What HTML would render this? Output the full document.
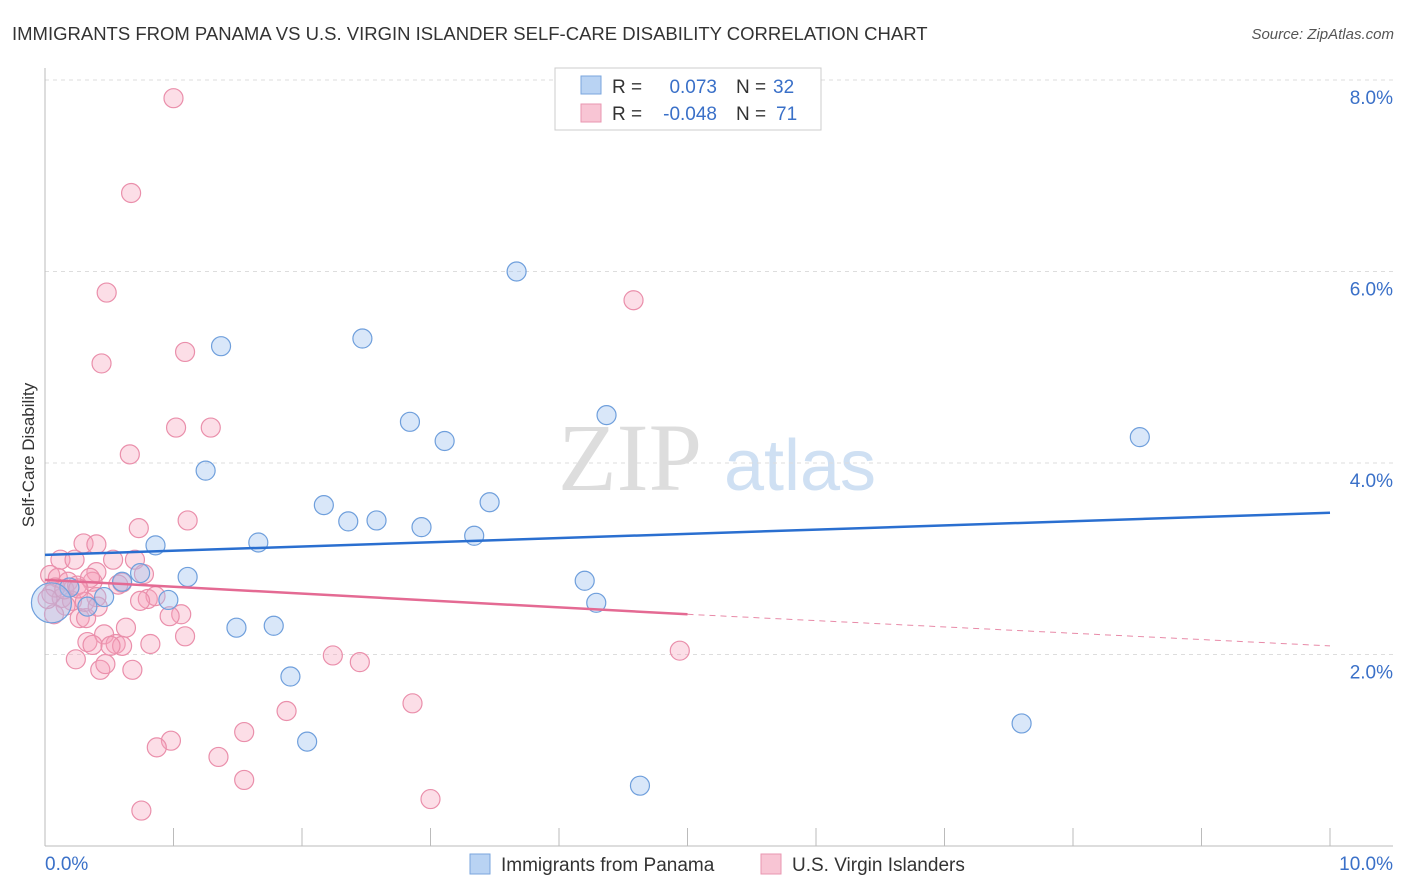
<!DOCTYPE html>
<html><head><meta charset="utf-8"><style>
body{margin:0;background:#fff;font-family:"Liberation Sans",sans-serif}
</style></head><body>
<svg id="c" width="1406" height="892" style="display:block">
<text x="12" y="40" font-size="18.5" fill="#333">IMMIGRANTS FROM PANAMA VS U.S. VIRGIN ISLANDER SELF-CARE DISABILITY CORRELATION CHART</text>
<text x="1394" y="39" font-size="15" fill="#555" font-style="italic" text-anchor="end">Source: ZipAtlas.com</text>
<text x="630" y="490" font-size="96" fill="#ddd" font-family="Liberation Serif" text-anchor="middle">ZIP</text>
<text x="800" y="490" font-size="72" fill="#cfe0f3" text-anchor="middle">atlas</text>
<text x="34" y="455" font-size="17" fill="#333" text-anchor="middle" transform="rotate(-90 34 455)">Self-Care Disability</text>
<g id="grid"></g><g id="pts"></g><g id="lines"></g>
<g font-size="19">
<rect x="555" y="68" width="266" height="62" fill="#fff" stroke="#ccc"/>
<rect x="581" y="76" width="20" height="18" fill="#b9d3f3" stroke="#7aa6de"/>
<rect x="581" y="104" width="20" height="18" fill="#f8c5d4" stroke="#e996b0"/>
<text x="612" y="93" fill="#333">R =</text>
<text x="717" y="93" fill="#3a70c8" text-anchor="end">0.073</text>
<text x="736" y="93" fill="#333">N =</text>
<text x="773" y="93" fill="#3a70c8">32</text>
<text x="612" y="120" fill="#333">R =</text>
<text x="717" y="120" fill="#3a70c8" text-anchor="end">-0.048</text>
<text x="736" y="120" fill="#333">N =</text>
<text x="776" y="120" fill="#3a70c8">71</text>
</g>
<g>
<rect x="470" y="854" width="20" height="20" fill="#b9d3f3" stroke="#7aa6de"/>
<text x="501" y="871" font-size="19" fill="#333">Immigrants from Panama</text>
<rect x="761" y="854" width="20" height="20" fill="#f8c5d4" stroke="#e996b0"/>
<text x="792" y="871" font-size="19" fill="#333">U.S. Virgin Islanders</text>
</g>
</svg>
<script>
const yTicks=[2,4,6,8];
const yTickLabels=["2.0%","4.0%","6.0%","8.0%"];
const xTickLabels=["0.0%","10.0%"];
const blueX=[3.67,1.37,2.47,2.84,3.11,4.37,1.25,2.17,2.36,2.58,2.93,3.34,3.46,0.86,1.66,0.74,1.11,0.60,0.46,0.33,0.96,1.49,1.78,1.91,2.04,4.20,4.29,4.63,7.60,8.52,0.19,0.05];
const blueY=[6.00,5.22,5.30,4.43,4.23,4.50,3.92,3.56,3.39,3.40,3.33,3.24,3.59,3.14,3.17,2.85,2.81,2.76,2.60,2.50,2.57,2.28,2.30,1.77,1.09,2.77,2.54,0.63,1.28,4.27,2.70,2.54];
const pinkX=[1.00,0.67,0.48,4.58,1.09,0.44,1.02,1.29,0.66,0.73,1.11,0.30,0.40,0.12,0.53,0.70,0.77,0.40,0.04,0.10,0.18,0.37,0.60,0.05,0.13,0.21,0.16,0.40,0.80,0.86,1.06,0.97,0.27,0.32,0.63,0.46,0.33,0.37,0.55,0.60,0.82,1.09,0.51,0.24,0.43,0.47,0.68,2.24,2.45,4.94,1.88,2.86,1.55,0.98,0.87,1.35,1.55,0.75,3.00,0.08,0.15,0.25,0.31,0.41,0.23,0.35,0.57,0.07,0.26,0.74,0.02];
const pinkY=[7.81,6.82,5.78,5.70,5.16,5.04,4.37,4.37,4.09,3.32,3.40,3.16,3.15,2.99,2.99,2.99,2.84,2.86,2.83,2.80,2.76,2.76,2.75,2.63,2.59,2.56,2.51,2.60,2.58,2.61,2.42,2.40,2.38,2.38,2.28,2.21,2.13,2.10,2.11,2.09,2.11,2.19,2.09,1.95,1.84,1.90,1.84,1.99,1.92,2.04,1.41,1.49,1.19,1.10,1.03,0.93,0.69,0.37,0.49,2.70,2.68,2.72,2.55,2.50,2.99,2.80,2.73,2.42,2.69,2.56,2.58];
const blueTrend=[3.04,3.48];
const pinkTrend=[2.78,2.42,2.09];
const X=v=>45+v*128.5, Y=v=>846-v*95.75;
const NS="http://www.w3.org/2000/svg";
function mk(p,t,a){const e=document.createElementNS(NS,t);for(const k in a)e.setAttribute(k,a[k]);p.appendChild(e);return e;}
const g=document.getElementById('grid'),P=document.getElementById('pts'),L=document.getElementById('lines');
yTicks.forEach((t,i)=>{
 let l=mk(g,'line',{x1:45,x2:1393,y1:Y(t),y2:Y(t),stroke:'#ddd','stroke-dasharray':'4 4'});
 
 
 let tx=mk(g,'text',{x:1393,y:Y(t)+24,'font-size':19,fill:'#3a70c8','text-anchor':'end'});
 tx.textContent=yTickLabels[i];
 
 
});
mk(g,'line',{x1:45,x2:1393,y1:80,y2:80,stroke:'#ddd','stroke-dasharray':'4 4'});
mk(g,'line',{x1:45,x2:45,y1:68,y2:846,stroke:'#bbb'});
mk(g,'line',{x1:45,x2:1393,y1:846,y2:846,stroke:'#bbb'});
for(let i=1;i<=10;i++){let t=mk(g,'line',{x1:X(i),x2:X(i),y1:828,y2:846,stroke:'#bbb'});}
[[0,45,'start'],[10,1393,'end']].forEach((d,i)=>{let t=mk(g,'text',{x:d[1],y:870,'font-size':19,fill:'#3a70c8','text-anchor':d[2]});t.textContent=xTickLabels[i];});
pinkX.forEach((x,i)=>{let c=mk(P,'circle',{cx:X(x),cy:Y(pinkY[i]),r:9.5,fill:'rgba(245,160,185,0.35)',stroke:'#ea8fab','stroke-width':1.2});});
blueX.forEach((x,i)=>{let c=mk(P,'circle',{cx:X(x),cy:Y(blueY[i]),r:i==blueX.length-1?20:9.5,fill:'rgba(160,195,240,0.4)',stroke:'#6f9fdc','stroke-width':1.2});});
let b=mk(L,'line',{x1:X(0),y1:Y(blueTrend[0]),x2:X(10),y2:Y(blueTrend[1]),stroke:'#2a6fd0','stroke-width':2.5});

let p=mk(L,'line',{x1:X(0),y1:Y(pinkTrend[0]),x2:X(5),y2:Y(pinkTrend[1]),stroke:'#e46a93','stroke-width':2.5});

let pd=mk(L,'line',{x1:X(5),y1:Y(pinkTrend[1]),x2:X(10),y2:Y(pinkTrend[2]),stroke:'#e88aa8','stroke-width':1,'stroke-dasharray':'6 5'});

</script>
</body></html>
